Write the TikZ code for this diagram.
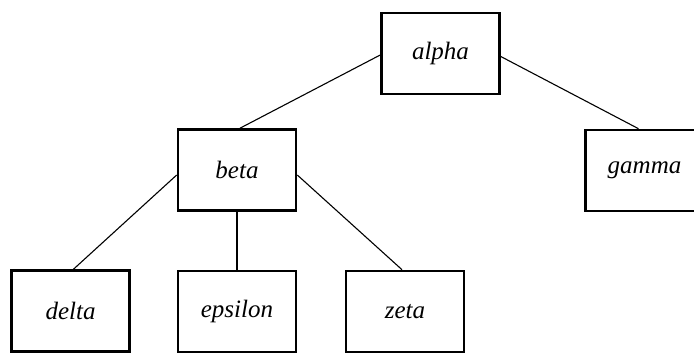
\documentclass[tikz,border=0pt]{standalone}
\usepackage{fontspec}
\setmainfont{Liberation Serif}
\begin{document}
\begin{tikzpicture}[x=1pt,y=-1pt,
  treebox/.style={draw, line width=2.6pt, minimum width=118pt, minimum height=81pt,
    inner sep=0pt, font=\fontsize{25}{25}\selectfont\itshape},
  edge/.style={line width=1.1pt}]
\useasboundingbox (0,0) rectangle (694,354);
\node[treebox] (alpha)   at (440.5,53.5) {alpha};
\node[treebox] (beta)    at (237,170)    {beta};
\node[treebox] (gamma)   at (644.5,170.5){gamma};
\node[treebox] (delta)   at (70.5,311)   {delta};
\node[treebox] (epsilon) at (237,311.5)  {epsilon};
\node[treebox] (zeta)    at (405,311.5)  {zeta};
\draw[edge] ([yshift=-1.5pt]alpha.west) -- ([xshift=3pt]beta.north);
\draw[edge] ([yshift=-3pt]alpha.east) -- ([xshift=-6pt]gamma.north);
\draw[edge] ([yshift=-5pt]beta.west) -- ([xshift=3pt]delta.north);
\draw[edge] (beta.south) -- (epsilon.north);
\draw[edge] ([yshift=-5pt]beta.east) -- ([xshift=-3pt]zeta.north);
\end{tikzpicture}
\end{document}
